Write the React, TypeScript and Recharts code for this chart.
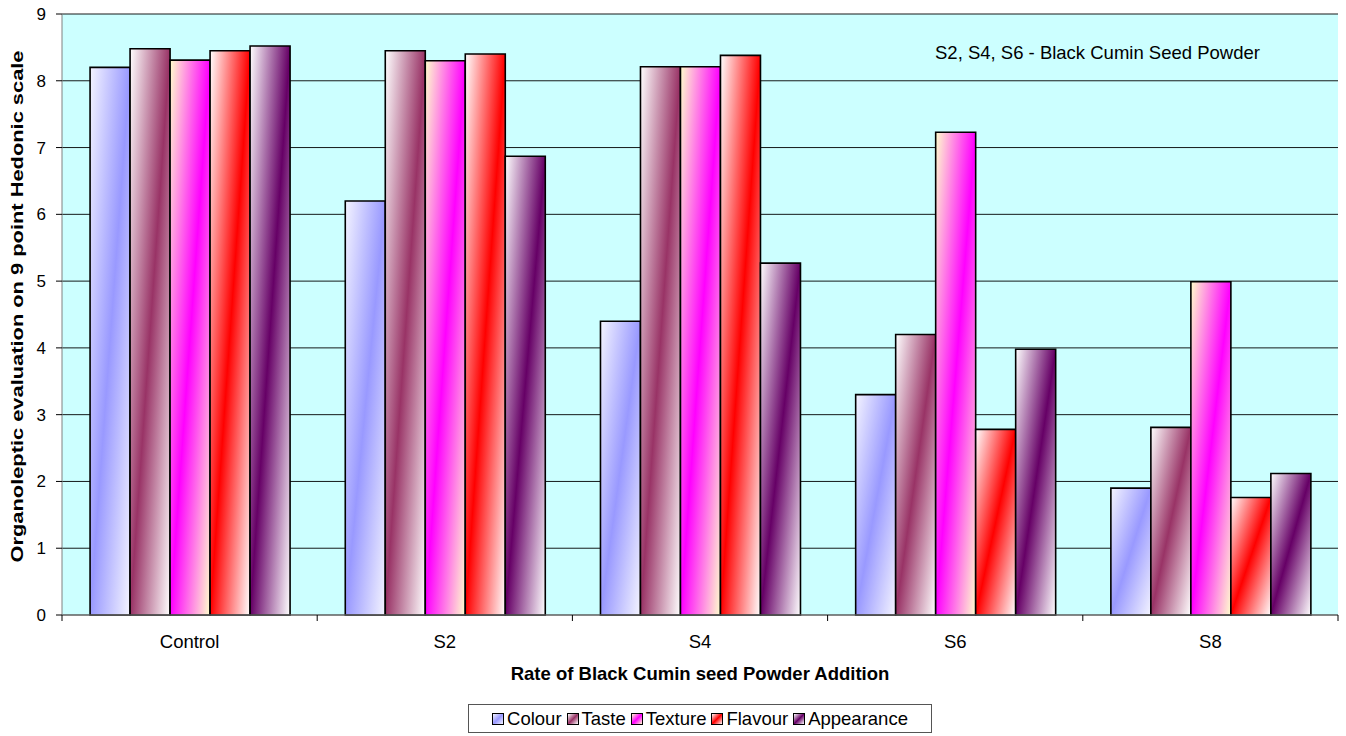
import React from "react";
import { BarChart, Bar, XAxis, YAxis, CartesianGrid, Label } from "recharts";

// Sensory scores per sample (9 point hedonic scale)
const GROUPS = ["Control", "S2", "S4", "S6", "S8"];
const COLOUR = [8.2, 6.2, 4.4, 3.3, 1.9];
const TASTE = [8.48, 8.45, 8.21, 4.2, 2.81];
const TEXTURE = [8.31, 8.3, 8.21, 7.23, 4.99];
const FLAVOUR = [8.45, 8.4, 8.38, 2.78, 1.76];
const APPEARANCE = [8.52, 6.87, 5.27, 3.98, 2.12];
const Y_TICKS = [0, 1, 2, 3, 4, 5, 6, 7, 8, 9];

const SERIES = [
  { key: "Colour", values: COLOUR, light: "#f4f4ff", dark: "#9999ff" },
  { key: "Taste", values: TASTE, light: "#ffffff", dark: "#993366" },
  { key: "Texture", values: TEXTURE, light: "#ffffcc", dark: "#ff00ff" },
  { key: "Flavour", values: FLAVOUR, light: "#ffffff", dark: "#ff0000" },
  { key: "Appearance", values: APPEARANCE, light: "#ffffff", dark: "#660066" },
];

const data = GROUPS.map((g, i) => {
  const row: Record<string, string | number> = { group: g };
  SERIES.forEach((s) => (row[s.key] = s.values[i]));
  return row;
});

const W = 1346;
const H = 736;
const LEFT = 62;
const RIGHT = 8;
const TOP = 14;
const PLOT_BOTTOM = 615;
const BAND = (W - LEFT - RIGHT) / GROUPS.length;
const FONT = "Arial, 'Liberation Sans', sans-serif";

// category label centred in its band, tick marks on the band edges
function GroupTick(props: any) {
  const { x, y, payload, index } = props;
  const left = x - BAND / 2;
  return (
    <g>
      <line x1={left} x2={left} y1={PLOT_BOTTOM} y2={PLOT_BOTTOM + 6} stroke="#000" />
      {index === GROUPS.length - 1 && (
        <line x1={x + BAND / 2} x2={x + BAND / 2} y1={PLOT_BOTTOM} y2={PLOT_BOTTOM + 6} stroke="#000" />
      )}
      <text x={x} y={y + 25} textAnchor="middle" fontSize={18.5} fill="#000" fontFamily={FONT}>
        {payload.value}
      </text>
    </g>
  );
}

function YTitle(props: any) {
  const { viewBox } = props;
  const cy = viewBox.y + viewBox.height / 2 - 8;
  return (
    <text
      x={17}
      y={cy}
      transform={`rotate(-90 17 ${cy})`}
      textAnchor="middle"
      dominantBaseline="central"
      fontSize={17}
      fontWeight="bold"
      fontFamily={FONT}
      textLength={512}
      lengthAdjust="spacingAndGlyphs"
    >
      Organoleptic evaluation on 9 point Hedonic scale
    </text>
  );
}

export default function App() {
  return (
    <div style={{ position: "absolute", left: 0, top: 0, width: W, height: H, background: "#fff", fontFamily: FONT }}>
      <BarChart
        width={W}
        height={H}
        data={data}
        margin={{ top: TOP, right: RIGHT, left: 0, bottom: 0 }}
        barCategoryGap="11%"
        barGap={0}
      >
        <defs>
          {SERIES.map((s) => (
            <linearGradient key={s.key} id={`grad-${s.key}`} x1="0" y1="0" x2="1" y2="1">
              <stop offset="0%" stopColor={s.light} />
              <stop offset="50%" stopColor={s.dark} />
              <stop offset="100%" stopColor={s.light} />
            </linearGradient>
          ))}
        </defs>
        <CartesianGrid vertical={false} fill="#ccffff" stroke="#000" strokeOpacity={0.9} />
        <XAxis
          dataKey="group"
          height={H - PLOT_BOTTOM}
          axisLine={{ stroke: "#808080" }}
          tickLine={false}
          tick={<GroupTick />}
          interval={0}
        >
          <Label
            value="Rate of Black Cumin seed Powder Addition"
            position="insideTop"
            offset={52}
            fontSize={18.5}
            fontWeight="bold"
            fill="#000"
            fontFamily={FONT}
          />
        </XAxis>
        <YAxis
          width={LEFT}
          domain={[0, 9]}
          ticks={Y_TICKS}
          interval={0}
          axisLine={{ stroke: "#808080" }}
          tickLine={{ stroke: "#000" }}
          tickSize={6}
          tickMargin={10}
          tick={{ fontSize: 17, fill: "#000", fontFamily: FONT }}
        >
          <Label content={<YTitle />} />
        </YAxis>
        <YAxis
          yAxisId="frame"
          orientation="right"
          width={0}
          domain={[0, 9]}
          tick={false}
          tickLine={false}
          axisLine={{ stroke: "#808080" }}
        />
        {SERIES.map((s) => (
          <Bar
            key={s.key}
            dataKey={s.key}
            fill={`url(#grad-${s.key})`}
            stroke="#000"
            strokeWidth={1.6}
            isAnimationActive={false}
          />
        ))}
      </BarChart>

      <div
        style={{
          position: "absolute",
          left: 935,
          top: 42,
          fontSize: 18.5,
          whiteSpace: "nowrap",
          color: "#000",
        }}
      >
        S2, S4, S6 - Black Cumin Seed Powder
      </div>

      <div
        style={{
          position: "absolute",
          left: 468,
          top: 704,
          width: 462,
          height: 27,
          border: "1px solid #555",
          background: "#fff",
          display: "flex",
          alignItems: "center",
          justifyContent: "center",
          gap: 5,
          fontSize: 18.5,
          color: "#000",
        }}
      >
        {SERIES.map((s) => (
          <div key={s.key} style={{ display: "flex", alignItems: "center", gap: 3 }}>
            <span
              style={{
                width: 10,
                height: 10,
                border: "1px solid #000",
                background: `linear-gradient(135deg, ${s.light}, ${s.dark} 50%, ${s.light})`,
              }}
            />
            <span>{s.key}</span>
          </div>
        ))}
      </div>
    </div>
  );
}
